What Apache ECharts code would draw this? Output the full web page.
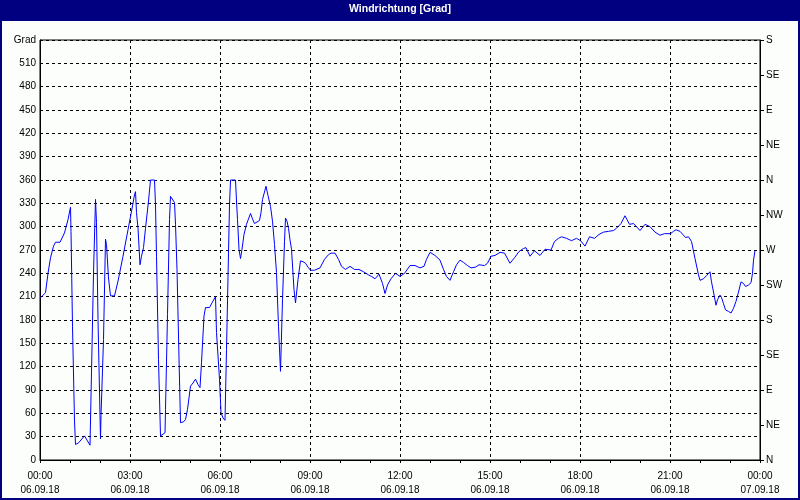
<!DOCTYPE html>
<html>
<head>
<meta charset="utf-8">
<script src="https://cdn.jsdelivr.net/npm/echarts@6/dist/echarts.min.js"></script>
<style>html,body{margin:0;padding:0;background:#fcfefc;}#chart{width:800px;height:500px;}</style>
</head>
<body>
<div id="chart"></div>
<script>
// minutes since 00:00 06.09.18
var times = [0,11,16,21,27,31,40,49,56,61,62,65,69,71,77,89,93,100,103,107,111,113,116,120,121,122,127,131,133,137,141,149,156,166,176,186,189,
191,193,196,200,203,207,211,217,221,229,231,233,237,241,250,251,255,259,261,269,271,274,278,281,287,291,295,301,306,311,316,320,323,328,331,339,344,351,353,359,362,366,370,
373,377,379,381,391,393,395,398,401,404,408,413,421,425,429,434,439,442,445,452,456,461,465,469,473,477,481,485,489,491,494,497,500,503,508,511,516,521,526,531,536,541,549,
560,569,577,582,590,597,603,611,620,629,638,647,657,663,670,678,685,690,695,702,711,720,729,740,750,760,768,773,780,790,800,807,813,820,827,833,840,847,855,862,871,878,889,895,902,910,
920,929,940,949,958,967,972,980,989,1000,1010,1022,1029,1037,1043,1053,1063,1073,1081,1090,1099,1109,1118,1127,1137,1147,1153,1162,1170,1179,1187,1191,1200,1210,1220,1230,1240,1249,
1261,1267,1272,1280,1287,1291,1297,1300,1303,1310,1317,1320,1327,1333,1340,1343,1347,1352,1355,1360,1363,1367,1371,1377,1382,1387,1392,1397,1402,1407,1411,1417,1422,1425,1427,1430];
var values = [208,215,240,260,275,280,280,292,309,325,294,172,50,20,22,31,29,19,113,240,335,305,181,57,27,57,155,284,277,234,211,211,230,262,296,330,341,
345,318,298,251,262,273,298,333,360,360,328,262,129,31,35,65,187,309,339,331,303,245,131,48,49,52,65,95,99,104,97,93,125,185,196,196,202,210,164,104,61,54,51,
142,266,328,360,360,333,309,271,259,271,290,303,317,310,304,306,308,318,335,352,340,326,307,277,241,172,114,206,281,311,307,298,283,271,219,202,232,256,255,253,248,244,244,
247,258,264,266,266,258,249,245,249,245,245,242,238,236,233,239,227,214,225,233,240,236,240,250,250,247,249,258,267,263,257,245,236,231,242,251,257,254,250,247,248,251,250,253,262,263,
267,266,253,260,268,272,273,262,269,263,271,270,281,285,287,285,282,285,282,275,287,285,290,293,294,295,298,304,314,303,304,304,295,303,300,293,289,291,
291,294,296,294,289,286,287,289,281,259,238,231,233,237,242,229,216,199,206,212,209,201,193,191,189,195,204,216,229,227,223,225,228,240,257,269];
var timeLabels = ['00:00','03:00','06:00','09:00','12:00','15:00','18:00','21:00','00:00'];
var dateLabels = ['06.09.18','06.09.18','06.09.18','06.09.18','06.09.18','06.09.18','06.09.18','06.09.18','07.09.18'];
var directionLabels = ['N','NE','E','SE','S','SW','W','NW','N','NE','E','SE','S'];
var titleText = 'Windrichtung [Grad]';
var unitLabel = 'Grad';

var FONT = 'Liberation Sans';
var data = times.map(function (t, i) { return [t, values[i]]; });
var chart = echarts.init(document.getElementById('chart'), null, {renderer: 'canvas'});
var dash = {color: '#000', type: [3, 3], width: 1};
chart.setOption({
  animation: false,
  backgroundColor: '#fcfefc',
  title: {
    text: titleText, left: 'center', top: 4, padding: 0, z: 10,
    textStyle: {color: '#fff', fontSize: 10.5, fontWeight: 'bold', fontFamily: FONT}
  },
  graphic: [
    {type: 'rect', z: 0, shape: {x: 0, y: 0, width: 800, height: 21}, style: {fill: '#000080'}},
    {type: 'rect', z: 100, shape: {x: 1, y: 1, width: 798, height: 498}, style: {fill: 'none', stroke: '#000080', lineWidth: 2}}
  ],
  grid: {left: 40, right: 40, top: 40, bottom: 40, show: true, backgroundColor: '#fcfefc', borderColor: '#000', borderWidth: 1},
  xAxis: {
    type: 'value', min: 0, max: 1440, interval: 180,
    axisLine: {show: true, lineStyle: {color: '#000', width: 1}},
    axisTick: {show: true, length: 3, lineStyle: {color: '#000'}},
    minorTick: {show: true, splitNumber: 3, length: 3, lineStyle: {color: '#000'}},
    splitLine: {show: true, lineStyle: dash},
    axisLabel: {
      color: '#000', fontSize: 10, fontFamily: FONT, margin: 9, lineHeight: 14,
      showMinLabel: true, showMaxLabel: true,
      formatter: function (v) { var i = Math.round(v / 180); return timeLabels[i] + '\n' + dateLabels[i]; }
    }
  },
  yAxis: [
    {
      type: 'value', min: 0, max: 540, interval: 30, position: 'left',
      axisLine: {show: true, lineStyle: {color: '#000'}},
      axisTick: {show: false},
      splitLine: {show: true, lineStyle: dash},
      axisLabel: {
        color: '#000', fontSize: 10, fontFamily: FONT, margin: 4, showMaxLabel: true,
        formatter: function (v) { return v === 540 ? unitLabel : String(v); }
      }
    },
    {
      type: 'value', min: 0, max: 540, interval: 45, position: 'right',
      axisLine: {show: true, lineStyle: {color: '#000'}},
      axisTick: {show: true, length: 4, lineStyle: {color: '#000'}},
      splitLine: {show: false},
      axisLabel: {
        color: '#000', fontSize: 10, fontFamily: FONT, margin: 6, showMaxLabel: true, showMinLabel: true,
        formatter: function (v) { return directionLabels[Math.round(v / 45)]; }
      }
    }
  ],
  series: [{
    type: 'line', data: data, yAxisIndex: 0, showSymbol: false, symbol: 'none',
    lineStyle: {color: '#0000ff', width: 1}, z: 5
  }]
});
</script>
</body>
</html>
